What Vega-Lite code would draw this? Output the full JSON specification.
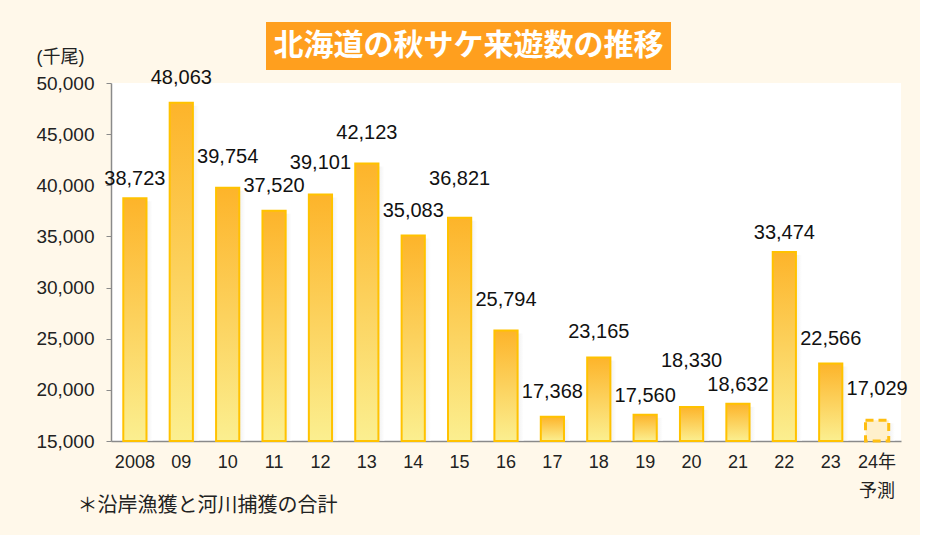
{
  "$schema": "https://vega.github.io/schema/vega-lite/v6.json",
  "background": "#FFF8EA",
  "padding": {"left": 35, "top": 22, "right": 12, "bottom": 20},
  "config": {
    "view": {"stroke": null},
    "font": "Liberation Sans, Noto Sans CJK JP"
  },
  "spacing": -22,
  "vconcat": [
    {
      "spacing": 0,
      "hconcat": [
        {
          "width": 155,
          "height": 48,
          "data": {"values": []},
          "mark": "point"
        },
        {
          "width": 405,
          "height": 48,
          "view": {"fill": "#FF9F1E", "stroke": null},
          "data": {"values": [{"t": "北海道の秋サケ来遊数の推移"}]},
          "mark": {"type": "text", "color": "white", "fontSize": 30, "fontWeight": "bold", "font": "Noto Sans CJK JP", "align": "center", "baseline": "middle"},
          "encoding": {"text": {"field": "t", "type": "nominal"}}
        }
      ]
    },
    {
      "width": 790,
      "height": 358,
      "view": {"fill": "white", "stroke": null},
      "data": {
        "values": [
          {"year": "2008", "value": 38723, "kind": "実績"},
          {"year": "09", "value": 48063, "kind": "実績"},
          {"year": "10", "value": 39754, "kind": "実績"},
          {"year": "11", "value": 37520, "kind": "実績"},
          {"year": "12", "value": 39101, "kind": "実績"},
          {"year": "13", "value": 42123, "kind": "実績"},
          {"year": "14", "value": 35083, "kind": "実績"},
          {"year": "15", "value": 36821, "kind": "実績"},
          {"year": "16", "value": 25794, "kind": "実績"},
          {"year": "17", "value": 17368, "kind": "実績"},
          {"year": "18", "value": 23165, "kind": "実績"},
          {"year": "19", "value": 17560, "kind": "実績"},
          {"year": "20", "value": 18330, "kind": "実績"},
          {"year": "21", "value": 18632, "kind": "実績"},
          {"year": "22", "value": 33474, "kind": "実績"},
          {"year": "23", "value": 22566, "kind": "実績"},
          {"year": "24年|予測", "value": 17029, "kind": "予測"}
        ]
      },
      "encoding": {
        "x": {
          "field": "year", "type": "nominal", "sort": null,
          "scale": {"paddingInner": 0.5, "paddingOuter": 0.265},
          "axis": {
            "title": "＊沿岸漁獲と河川捕獲の合計",
            "titleFontSize": 20, "titleFontWeight": "normal", "titleColor": "#222",
            "titleAnchor": "start", "titleAlign": "left", "titleBaseline": "middle",
            "titleX": -34, "titleY": 64,
            "labelExpr": "split(datum.label, '|')",
            "labelAngle": 0, "labelFontSize": 18, "labelColor": "#222",
            "labelPadding": 12, "labelLineHeight": 29,
            "ticks": false, "domainColor": "#8a8a8a", "domainWidth": 1.5
          }
        },
        "y": {
          "field": "value", "type": "quantitative",
          "scale": {"domain": [15000, 50000], "zero": false, "nice": false},
          "axis": {
            "title": "(千尾)",
            "titleFontSize": 18, "titleFontWeight": "normal", "titleColor": "#222",
            "titleAngle": 0, "titleAlign": "left", "titleBaseline": "middle",
            "titleX": -75, "titleY": -26,
            "values": [15000, 20000, 25000, 30000, 35000, 40000, 45000, 50000],
            "labelExpr": "format(datum.value, ',')",
            "labelFontSize": 19, "labelColor": "#222", "labelPadding": 12,
            "tickSize": 5, "tickColor": "#8a8a8a", "domainColor": "#8a8a8a", "domainWidth": 1.5,
            "grid": false
          }
        }
      },
      "layer": [
        {
          "mark": {
            "type": "bar", "xOffset": 6, "yOffset": 3, "clip": true, "opacity": 0.55,
            "fill": {"gradient": "linear", "x1": 0, "y1": 0, "x2": 1, "y2": 0,
              "stops": [{"offset": 0, "color": "#9a9a9a"}, {"offset": 1, "color": "#ffffff"}]}
          },
          "encoding": {"y2": {"datum": 15000}}
        },
        {
          "transform": [{"filter": "datum.kind === '実績'"}],
          "mark": {
            "type": "bar", "stroke": "#FFC200", "strokeWidth": 2,
            "fill": {"gradient": "linear", "x1": 0, "y1": 0, "x2": 0, "y2": 1,
              "stops": [{"offset": 0, "color": "#FDB42A"}, {"offset": 1, "color": "#FBEF90"}]}
          },
          "encoding": {"y2": {"datum": 15000}}
        },
        {
          "transform": [{"filter": "datum.kind === '予測'"}],
          "mark": {
            "type": "bar", "stroke": "#FFBE10", "strokeWidth": 3, "strokeDash": [8, 5],
            "fill": "#FFF0CC"
          },
          "encoding": {"y2": {"datum": 15000}}
        },
        {
          "transform": [{"filter": "indexof(['2008','19','21','22'], datum.year) >= 0"}],
          "mark": {"type": "text", "fontSize": 20, "color": "#111", "baseline": "middle", "dy": -19},
          "encoding": {"text": {"field": "value", "type": "quantitative", "format": ","}}
        },
        {
          "transform": [{"filter": "indexof(['09','11','14','17','18','23'], datum.year) >= 0"}],
          "mark": {"type": "text", "fontSize": 20, "color": "#111", "baseline": "middle", "dy": -25},
          "encoding": {"text": {"field": "value", "type": "quantitative", "format": ","}}
        },
        {
          "transform": [{"filter": "indexof(['10','12','13','16','24年|予測'], datum.year) >= 0"}],
          "mark": {"type": "text", "fontSize": 20, "color": "#111", "baseline": "middle", "dy": -31},
          "encoding": {"text": {"field": "value", "type": "quantitative", "format": ","}}
        },
        {
          "transform": [{"filter": "datum.year === '15'"}],
          "mark": {"type": "text", "fontSize": 20, "color": "#111", "baseline": "middle", "dy": -39},
          "encoding": {"text": {"field": "value", "type": "quantitative", "format": ","}}
        },
        {
          "transform": [{"filter": "datum.year === '20'"}],
          "mark": {"type": "text", "fontSize": 20, "color": "#111", "baseline": "middle", "dy": -46},
          "encoding": {"text": {"field": "value", "type": "quantitative", "format": ","}}
        }
      ]
    }
  ]
}
